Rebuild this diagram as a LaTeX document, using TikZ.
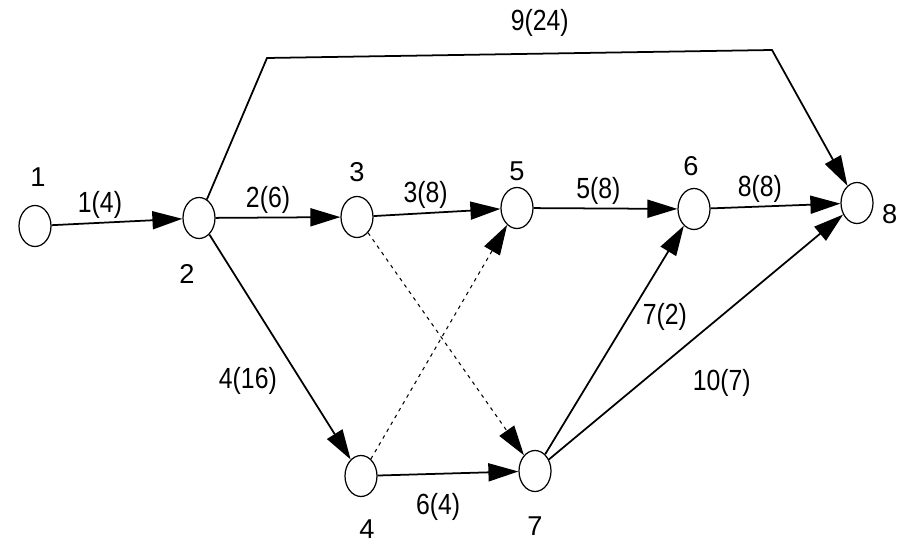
\documentclass[tikz,border=0pt]{standalone}
\usepackage{fontspec}
\setmainfont{Liberation Sans}
\newfontfamily\edgefont{Liberation Sans}[FakeStretch=0.85]
\usetikzlibrary{shapes,arrows.meta,positioning}

\begin{document}
\begin{tikzpicture}[
    x=0.02cm, y=-0.02cm,
    evnode/.style={draw, ellipse, minimum width=0.64cm, minimum height=0.82cm, inner sep=0pt, line width=0.7pt},
    myedge/.style={->, line width=1pt, >={Triangle[length=6mm,width=3.6mm]}},
    dummy/.style={myedge, line width=0.6pt, dash pattern=on 2pt off 2.5pt},
    elabel/.style={font=\edgefont\fontsize{16.6}{18}\selectfont, inner sep=2pt},
    every label/.style={font=\fontsize{15.5}{18}\selectfont, inner sep=1pt}
]
\useasboundingbox (0,0) rectangle (905,543);

\node[evnode, label={[label distance=0.33cm, xshift=0.06cm]above:1}] (N1) at (35,226) {};
\node[evnode, label={[label distance=0.47cm, xshift=-0.24cm]below:2}] (N2) at (199,218) {};
\node[evnode, label={[label distance=0.25cm]above:3}] (N3) at (357,217) {};
\node[evnode, label={[label distance=0.41cm, xshift=0.12cm]below:4}] (N4) at (361,476) {};
\node[evnode, label={[label distance=0.09cm]above:5}] (N5) at (517,208) {};
\node[evnode, label={[label distance=0.21cm, xshift=-0.06cm]above:6}] (N6) at (694,209) {};
\node[evnode, label={[label distance=0.45cm]below:7}] (N7) at (535,471) {};
\node[evnode, label={[label distance=0.13cm, yshift=-0.22cm]right:8}] (N8) at (857,203) {};

\coordinate (TL) at (267,58);
\coordinate (TR) at (772,50);

\draw[myedge] (N1) -- (N2) node[elabel, pos=0.37, above] {1(4)};
\draw[myedge] (N2) -- (N3) node[elabel, pos=0.42, above] {2(6)};
\draw[myedge] (N3) -- (N5) node[elabel, pos=0.41, above] {3(8)};
\draw[myedge] (N5) -- (N6) node[elabel, pos=0.45, above] {5(8)};
\draw[myedge] (N6) -- (N8) node[elabel, pos=0.38, above] {8(8)};
\draw[myedge] (N2) -- (N4) node[elabel, pos=0.65, left=4mm] {4(16)};
\draw[myedge] (N4) -- (N7) node[elabel, pos=0.43, below=3mm] {6(4)};
\draw[myedge] (N7) -- (N6) node[elabel, pos=0.6, right=2mm] {7(2)};
\draw[myedge] (N7) -- (N8) node[elabel, pos=0.44, below right=2.7mm and 2mm] {10(7)};
\draw[dummy] (N3) -- (N7);
\draw[dummy] (N4) -- (N5);
\draw[myedge] (N2) -- (TL) -- (TR) node[elabel, pos=0.54, above=2.5mm] {9(24)} -- (N8);
\end{tikzpicture}
\end{document}
